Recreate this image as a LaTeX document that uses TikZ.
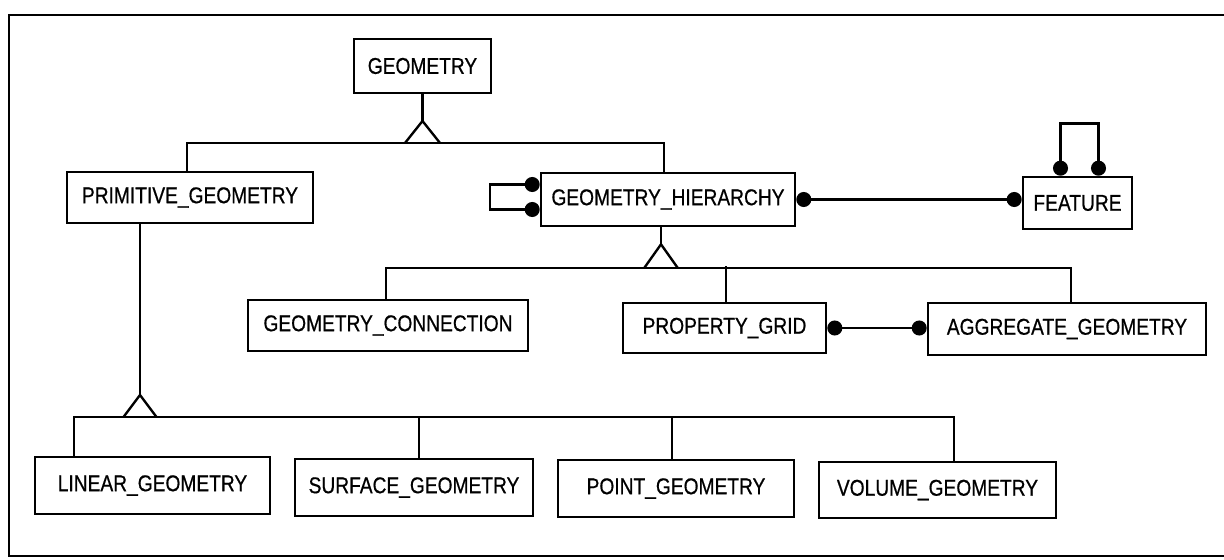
\documentclass[tikz,border=0pt]{standalone}
\usepackage{fontspec}
\setmainfont{Liberation Sans}[FakeStretch=0.84, FakeBold=0.6]
\usetikzlibrary{arrows.meta}

\begin{document}
\begin{tikzpicture}[x=0.02cm, y=-0.02cm,
  entity/.style={draw, line width=1.5pt, fill=white, inner sep=0pt, font=\fontsize{13}{15}\selectfont},
  link/.style={line width=1.35pt},
  dotlink/.style={link, {Circle[length=0.3cm]}-{Circle[length=0.3cm]}}]
\useasboundingbox (0,0) rectangle (1224,560);
\draw[line width=1.5pt] (1224,15) -- (9,15) -- (9,556) -- (1224,556);

\node[entity, minimum width=2.74cm, minimum height=1.08cm] (geom) at (422.5, 66) {GEOMETRY};
\node[entity, minimum width=4.92cm, minimum height=1.02cm] (prim) at (190, 197.5) {PRIMITIVE\_GEOMETRY};
\node[entity, minimum width=5.08cm, minimum height=1.06cm] (hier) at (668, 199.5) {GEOMETRY\_HIERARCHY};
\node[entity, minimum width=2.18cm, minimum height=1.04cm] (feat) at (1077.5, 203) {FEATURE};
\node[entity, minimum width=5.60cm, minimum height=1.02cm] (conn) at (388, 325.5) {GEOMETRY\_CONNECTION};
\node[entity, minimum width=4.06cm, minimum height=1.00cm] (grid) at (724.5, 328) {PROPERTY\_GRID};
\node[entity, minimum width=5.56cm, minimum height=1.04cm] (aggr) at (1067, 329) {AGGREGATE\_GEOMETRY};
\node[entity, minimum width=4.70cm, minimum height=1.14cm] (linear) at (152.5, 485.5) {LINEAR\_GEOMETRY};
\node[entity, minimum width=4.76cm, minimum height=1.14cm] (surface) at (414, 487.5) {SURFACE\_GEOMETRY};
\node[entity, minimum width=4.72cm, minimum height=1.14cm] (point) at (676, 488.5) {POINT\_GEOMETRY};
\node[entity, minimum width=4.74cm, minimum height=1.12cm] (volume) at (937.5, 490) {VOLUME\_GEOMETRY};

\coordinate (ga) at (422.5, 121);
\coordinate (gb) at (422.5, 143);
\draw[link] (geom) -- (ga);
\draw[link] ([xshift=-0.35cm]gb) -- (ga) -- ([xshift=0.35cm]gb);
\draw[link] ([xshift=-0.06cm]prim.north) |- (gb) -| ([xshift=-0.08cm]hier.north);

\coordinate (ha) at ([xshift=-0.14cm, yshift=-0.34cm]hier.south);
\coordinate (hb) at ([yshift=-0.48cm]ha);
\draw[link] ([xshift=-0.14cm]hier.south) -- (ha);
\draw[link] ([xshift=-0.34cm]hb) -- (ha) -- ([xshift=0.34cm]hb);
\draw[link] ([xshift=-0.04cm]conn.north) |- (hb) -| ([xshift=0.08cm]aggr.north);
\draw[link] ([xshift=0.03cm]grid.north) -- ++(0,-36);

\coordinate (pa) at (140, 395);
\coordinate (pb) at (140, 417);
\draw[link] (prim.south -| pa) -- (pa);
\draw[link] ([xshift=-0.33cm]pb) -- (pa) -- ([xshift=0.33cm]pb);
\draw[link] ([xshift=-1.57cm]linear.north) |- (pb) -| ([xshift=0.33cm]volume.north);
\draw[link] ([xshift=0.1cm]surface.north) -- ++(0,-42);
\draw[link] ([xshift=-0.08cm]point.north) -- ++(0,-43);

\draw[dotlink] ([yshift=0.3cm]hier.west) -- ++(-50,0) |- ([yshift=-0.2cm]hier.west);
\draw[dotlink] (hier.east) -- (hier.east -| feat.west);
\draw[dotlink] ([xshift=-0.34cm]feat.north) -- ++(0,-52) -| ([xshift=0.42cm]feat.north);
\draw[dotlink] (grid.east) -- (grid.east -| aggr.west);
\end{tikzpicture}
\end{document}
